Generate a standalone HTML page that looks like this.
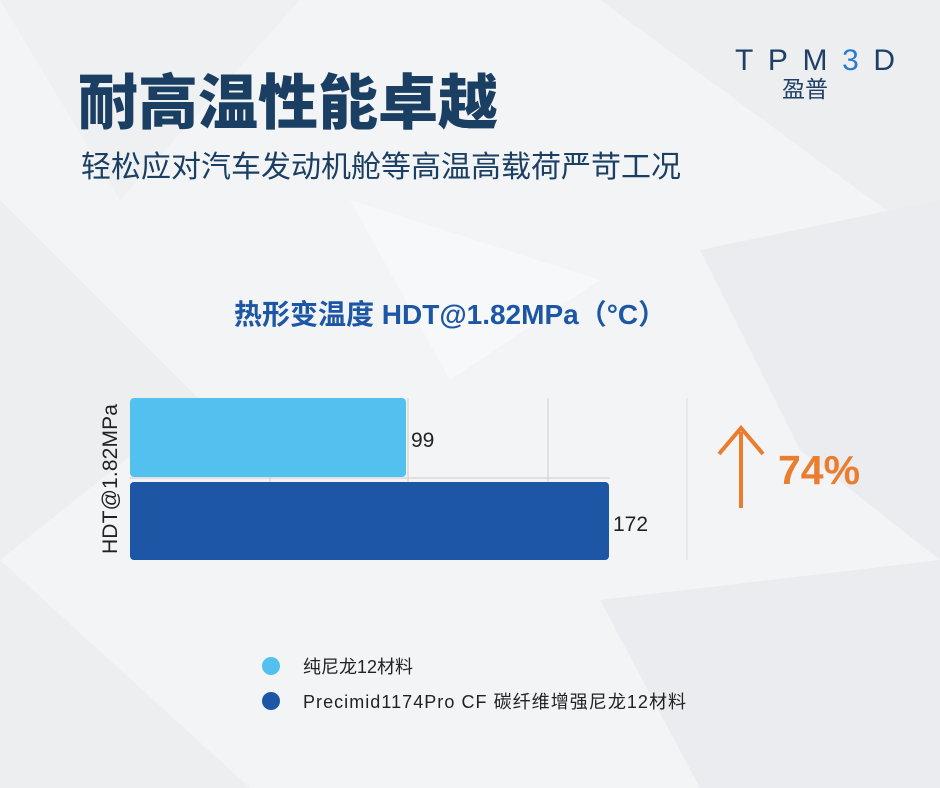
<!DOCTYPE html>
<html><head><meta charset="utf-8"><style>
body{margin:0;width:940px;height:788px;overflow:hidden;position:relative;background:#f4f5f7;font-family:"Liberation Sans","Noto Sans CJK SC",sans-serif}
.abs{position:absolute;white-space:nowrap}
</style></head><body>
<svg class="abs" style="left:0;top:0" width="940" height="788">
<rect width="940" height="788" fill="#f3f4f6"/>
<polygon points="0,0 300,0 120,200" fill="#eef0f2"/>
<polygon points="600,0 940,0 940,250" fill="#eceef0"/>
<polygon points="0,200 200,400 0,560" fill="#eceef0"/>
<polygon points="700,250 940,200 940,560 800,450" fill="#eaecef"/>
<polygon points="0,560 250,788 0,788" fill="#eceef0"/>
<polygon points="600,600 940,560 940,788 700,788" fill="#eaecef"/>
<polygon points="350,200 600,280 450,380" fill="#f7f8f9"/>
<line x1="270" y1="398" x2="270" y2="560" stroke="#ccc"/>
<line x1="408" y1="398" x2="408" y2="560" stroke="#ccc"/>
<line x1="548" y1="398" x2="548" y2="560" stroke="#ccc"/>
<line x1="687" y1="398" x2="687" y2="560" stroke="#ddd"/>
<line x1="130" y1="478" x2="610" y2="478" stroke="#ccc"/>
<rect x="130" y="398" width="276" height="79" rx="4" fill="#52c1ef"/>
<rect x="130" y="482" width="479" height="78" rx="4" fill="#1c56a5"/>
<text x="411" y="447" font-size="21" fill="#222" font-family="Liberation Sans">99</text>
<text x="613" y="531" font-size="21" fill="#222" font-family="Liberation Sans">172</text>
<text transform="translate(117,554) rotate(-90)" font-size="21" fill="#222" font-family="Liberation Sans" textLength="150">HDT@1.82MPa</text>
<line x1="741" y1="432" x2="741" y2="508" stroke="#eb7d2e" stroke-width="4"/>
<polyline points="719,454 741,428 763,454" fill="none" stroke="#eb7d2e" stroke-width="4"/>
<text x="778" y="484" font-size="41" font-weight="bold" fill="#eb7d2e" font-family="Liberation Sans">74%</text>
<circle cx="271" cy="666" r="9" fill="#52c1ef"/>
<circle cx="271" cy="701" r="9" fill="#1c56a5"/>
<text x="303" y="673" font-size="18" fill="#222" font-family="Liberation Sans, Noto Sans CJK SC, sans-serif">纯尼龙12材料</text>
<text x="303" y="708" font-size="18" fill="#222" font-family="Liberation Sans, Noto Sans CJK SC, sans-serif" textLength="383">Precimid1174Pro CF 碳纤维增强尼龙12材料</text>
<text x="735" y="70" font-size="30" fill="#1e3f66" font-family="Liberation Sans" textLength="160" lengthAdjust="spacing">TPM<tspan fill="#2a7bd0">3</tspan>D</text>
<text x="782" y="97" font-size="23" fill="#1e3f66" font-family="Noto Sans CJK SC, sans-serif">盈普</text>
</svg>
<div class="abs" style="left:78px;top:64px;font-size:60px;font-weight:900;color:#1b3f63;line-height:70px;font-family:'Noto Sans CJK SC',sans-serif">耐高温性能卓越</div>
<div class="abs" style="left:81px;top:144px;font-size:30px;color:#1b3f63;line-height:40px;font-family:'Noto Sans CJK SC',sans-serif">轻松应对汽车发动机舱等高温高载荷严苛工况</div>
<div class="abs" style="left:234px;top:296px;font-size:28px;font-weight:bold;color:#1c56a5;line-height:38px;font-family:'Liberation Sans','Noto Sans CJK SC',sans-serif">热形变温度 HDT@1.82MPa（°C）</div>
</body></html>
